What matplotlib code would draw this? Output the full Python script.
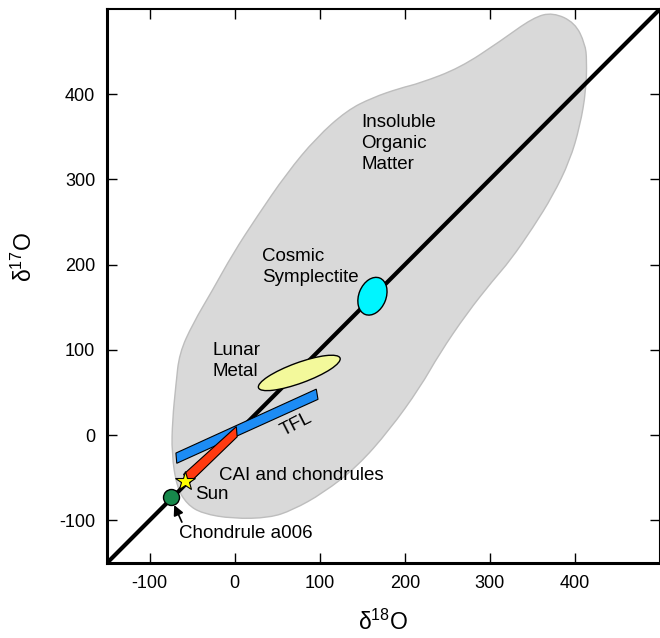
import matplotlib
matplotlib.use('Agg')
import matplotlib.pyplot as plt
from matplotlib.patches import Polygon, Ellipse, PathPatch
from matplotlib.path import Path

plt.rcParams['font.family'] = ['Liberation Sans', 'DejaVu Sans']
plt.rcParams['mathtext.fontset'] = 'custom'
plt.rcParams['mathtext.rm'] = 'Liberation Sans'
plt.rcParams['axes.unicode_minus'] = False

# outline of the insoluble organic matter field (d18O, d17O)
iom_x = [374, 400, 412, 414, 413, 406, 394, 374, 351, 324, 304, 273, 241, 218,
         182, 144, 104, 68, 41, -2, -38, -56, -68, -74, -73, -69, -65, -49,
         -26, -2, 26, 61, 96, 132, 162, 194, 218, 265, 312, 351]
iom_y = [496, 484, 459, 440, 404, 363, 322, 281, 244, 205, 182, 143, 96, 56,
         6, -37, -68, -88, -97, -98, -92, -81, -61, -21, 18, 59, 96, 131,
         170, 213, 256, 307, 349, 381, 396, 407, 413, 431, 462, 490]

# terrestrial fractionation line band
tfl_x = [-69, 96, 98, -68]
tfl_y = [-21, 54, 42, -33]

# CAI and chondrules band
cai_x = [2, 3, -53, -60]
cai_y = [10, -2, -56, -46]

sym_xy = (162, 163)
lunar_xy = (76, 73)
sun_xy = (-58, -54)
a006_xy = (-75, -72)


def smooth_closed(pts):
    # quadratic bezier through edge midpoints, vertices as control points
    n = len(pts)
    mids = [((pts[i][0] + pts[(i + 1) % n][0]) / 2,
             (pts[i][1] + pts[(i + 1) % n][1]) / 2) for i in range(n)]
    verts = [mids[-1]]
    codes = [Path.MOVETO]
    for i in range(n):
        verts += [pts[i], mids[i]]
        codes += [Path.CURVE3, Path.CURVE3]
    return Path(verts, codes)


fig = plt.figure(figsize=(6.6, 6.38), dpi=100)
ax = fig.add_axes([107 / 660, 75 / 638, 553 / 660, 554 / 638])

ax.add_patch(PathPatch(smooth_closed(list(zip(iom_x, iom_y))),
                       facecolor='#d9d9d9', edgecolor='#bdbdbd', lw=1,
                       zorder=1))

ax.plot([-150, 500], [-150, 500], color='black', lw=3, zorder=2,
        solid_capstyle='butt')

ax.add_patch(Ellipse(sym_xy, 32, 46, angle=-22, facecolor='#00f5ff',
                     edgecolor='black', lw=1, zorder=3))
ax.add_patch(Ellipse(lunar_xy, 102, 24, angle=20, facecolor='#f3f99b',
                     edgecolor='black', lw=1, zorder=3))
ax.add_patch(Polygon(list(zip(tfl_x, tfl_y)), closed=True, facecolor='#1c8cf5',
                     edgecolor='black', lw=0.8, zorder=3))
ax.add_patch(Polygon(list(zip(cai_x, cai_y)), closed=True, facecolor='#ff3a10',
                     edgecolor='black', lw=0.8, zorder=4))

ax.plot(*a006_xy, 'o', ms=11.5, mfc='#17884b', mec='black', mew=1, zorder=5)
ax.plot(*sun_xy, '*', ms=14.5, mfc='#ffff00', mec='black', mew=0.8, zorder=6)

ax.annotate('', xy=(-71, -82), xytext=(-62, -102),
            arrowprops=dict(arrowstyle='-|>', color='black', lw=1.2,
                            mutation_scale=15, shrinkA=0, shrinkB=0), zorder=6)

fs = 13.5
ax.text(149, 342, 'Insoluble\nOrganic\nMatter', fontsize=fs, va='center',
        ha='left', linespacing=1.32)
ax.text(32, 197, 'Cosmic\nSymplectite', fontsize=fs, va='center', ha='left',
        linespacing=1.32)
ax.text(-26, 87, 'Lunar\nMetal', fontsize=fs, va='center', ha='left',
        linespacing=1.32)
ax.text(72, 12, 'TFL', fontsize=fs, va='center', ha='center', rotation=27)
ax.text(-18, -47, 'CAI and chondrules', fontsize=fs, va='center', ha='left')
ax.text(-46, -70, 'Sun', fontsize=fs, va='center', ha='left')
ax.text(-65, -115, 'Chondrule a006', fontsize=fs, va='center', ha='left')

ax.set_xlim(-150, 500)
ax.set_ylim(-150, 500)
ax.set_xticks([-100, 0, 100, 200, 300, 400])
ax.set_yticks([-100, 0, 100, 200, 300, 400])
ax.tick_params(direction='in', length=7, width=1, top=True, right=True,
               labelsize=13, pad=8.5)

ax.spines['left'].set_linewidth(2.2)
ax.spines['bottom'].set_linewidth(2.2)
ax.spines['top'].set_linewidth(1.5)
ax.spines['right'].set_linewidth(1.5)

ax.set_xlabel(r'δ$^{18}$O', fontsize=16.5)
ax.set_ylabel(r'δ$^{17}$O', fontsize=16.5)
ax.xaxis.set_label_coords(0.5, -0.085)
ax.yaxis.set_label_coords(-0.127, 0.552)

fig.savefig('out.png', dpi=100)
